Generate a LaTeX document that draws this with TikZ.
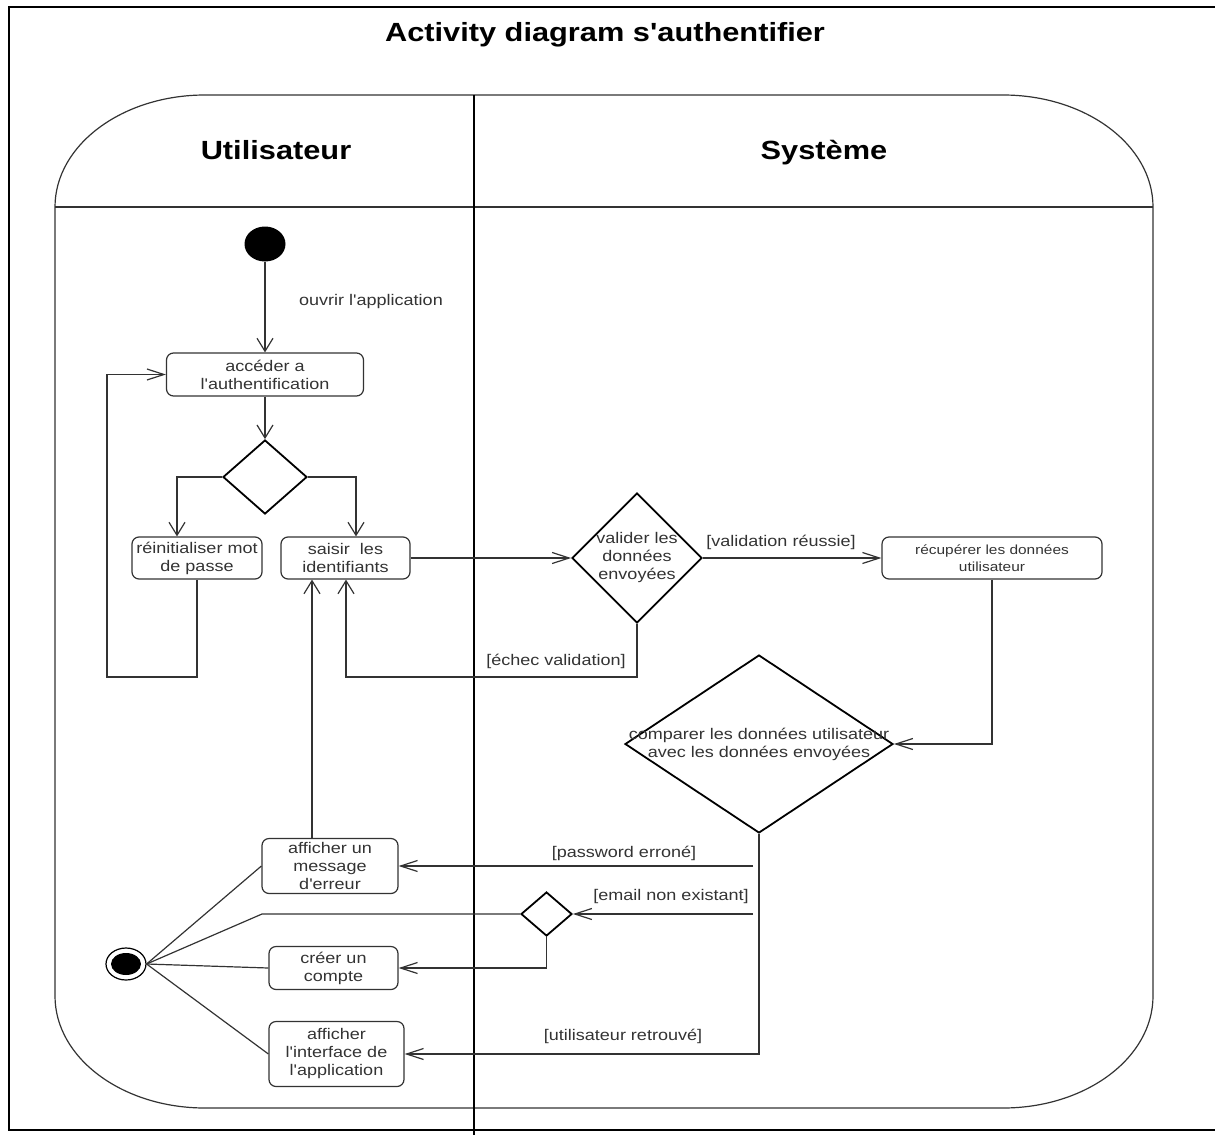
\documentclass[tikz,border=0pt]{standalone}
\usepackage{fontspec}
\setmainfont{Liberation Sans}[FakeStretch=1.17, Ligatures=TeXOff]
\usetikzlibrary{arrows.meta,shapes.geometric}
\definecolor{ink}{HTML}{333333}
\begin{document}
\begin{tikzpicture}[x=1pt,y=-1pt,
  every node/.style={text=ink, font=\fontsize{15.4}{18}\selectfont},
  box/.style={draw=ink, line width=1.2pt, rounded corners=7pt, align=center, inner sep=0pt},
  decision/.style={diamond, draw=black, line width=1.8pt, inner sep=0pt},
  flow/.style={draw=ink, line width=1.2pt},
  arh/.style={flow, -{Straight Barb[length=17pt,width=11pt]}},
  arv/.style={flow, -{Straight Barb[length=13pt,width=16pt]}},
  guard/.style={inner sep=0pt, text height=11pt, text depth=3pt},
  heading/.style={text=black, anchor=base, font=\bfseries\fontsize{26.3}{30}\selectfont},
  corner/.style={x radius=150pt, y radius=112pt}]
\useasboundingbox (0,0) rectangle (1215,1135);

% outer frame
\draw[line width=1.6pt] (1215,7) -- (9,7) -- (9,1130) -- (1215,1130);
\node[heading] (title) at (605,41) {Activity diagram s'authentifier};

% swimlane container with rounded corners
\draw[ink, line width=1.2pt] (55,207) arc[start angle=180, end angle=90, corner]
  -- (1003,95) arc[start angle=90, end angle=0, corner]
  -- (1153,996) arc[start angle=0, end angle=-90, corner]
  -- (205,1108) arc[start angle=270, end angle=180, corner] -- cycle;
\draw[ink, line width=2.2pt] (55,207) -- (1153,207);
\draw[black, line width=2pt] (474,95) -- (474,1135);
\node[heading] (laneU) at (276,159) {Utilisateur};
\node[heading] (laneS) at (824,159) {Système};

% initial and final states
\node[ellipse, fill=black, minimum width=41pt, minimum height=35pt, inner sep=0pt] (start) at (265,244) {};
\node[ellipse, draw=black, line width=1.2pt, minimum width=40pt, minimum height=32pt, inner sep=0pt] (end) at (126,964) {};
\fill[black] (end.center) ellipse [x radius=15pt, y radius=11pt];

% actions
\node[box, minimum width=197pt, minimum height=43pt] (acc) at (265,374.5) {accéder a\\l'authentification};
\node[box, minimum width=130pt, minimum height=42pt] (reinit) at (197,558) {réinitialiser mot\\de passe};
\node[box, minimum width=129pt, minimum height=42pt] (saisir) at (345.5,558) {saisir\ \ les\\identifiants};
\node[box, minimum width=220pt, minimum height=42pt, font=\fontsize{13.2}{16.5}\selectfont] (recup) at (992,558) {récupérer les données\\utilisateur};
\node[box, minimum width=136pt, minimum height=55pt] (err) at (330,866) {afficher un\\message\\d'erreur};
\node[box, minimum width=129pt, minimum height=43pt] (crt) at (333.5,968) {créer un\\compte};
\node[box, minimum width=135pt, minimum height=65pt] (iface) at (336.5,1054) {afficher\\l'interface de\\l'application};

% decisions
\node[decision, minimum width=84pt, minimum height=74pt] (d1) at (265,477) {};
\node[decision, minimum width=130pt, minimum height=130pt,
  label={[align=center]center:valider les\\données\\envoyées}] (d2) at (637,558) {};
\node[decision, minimum width=268pt, minimum height=178pt,
  label={[align=center]center:comparer les données utilisateur\\avec les données envoyées}] (d3) at (759,744) {};
\node[decision, minimum width=51pt, minimum height=44pt] (d4) at (546.5,914) {};

% loose ends and bends
\coordinate (lp) at (107,677);
\coordinate (fb) at (346,677);
\coordinate (pw) at (753,866);
\coordinate (em) at (753,914);
\coordinate (ej) at (262,914);

% flows
\draw[arv] (start) -- (acc);
\node[guard] (lopen) at (371,301) {ouvrir l'application};
\draw[arv] (acc) -- (d1);
\draw[arv] (d1.west) -| ([xshift=-20pt]reinit.north);
\draw[arv] (d1.east) -| ([xshift=10.5pt]saisir.north);
\draw[arh] (reinit.south) |- (lp) |- (acc.west);
\draw[arh] (saisir.east) -- (d2.west);
\draw[arh] (d2.east) -- (recup.west);
\node[guard] (lok) at (781,542) {[validation réussie]};
\draw[arv] (d2.south) |- (fb) -- (fb |- saisir.south);
\node[guard] (lfail) at (556,661) {[échec validation]};
\draw[arh] (recup.south) |- (d3.east);
\draw[arh] (d3.south) |- (iface.east);
\node[guard] (lfound) at (623,1036) {[utilisateur retrouvé]};
\draw[arh] (pw) -- (err.east);
\node[guard] (lpwd) at (624,853) {[password erroné]};
\draw[arh] (em) -- (d4.east);
\node[guard] (lmail) at (671,896) {[email non existant]};
\draw[arh] (d4.south) |- (crt.east);
\draw[arv] ([xshift=-18pt]err.north) -- ([xshift=-18pt]err.north |- saisir.south);

% flows into the final state
\draw[flow] (d4.west) -- (ej) -- (end.east);
\draw[flow] (err.west) -- (end.east);
\draw[flow] (crt.west) -- (end.east);
\draw[flow] (iface.west) -- (end.east);
\end{tikzpicture}
\end{document}
